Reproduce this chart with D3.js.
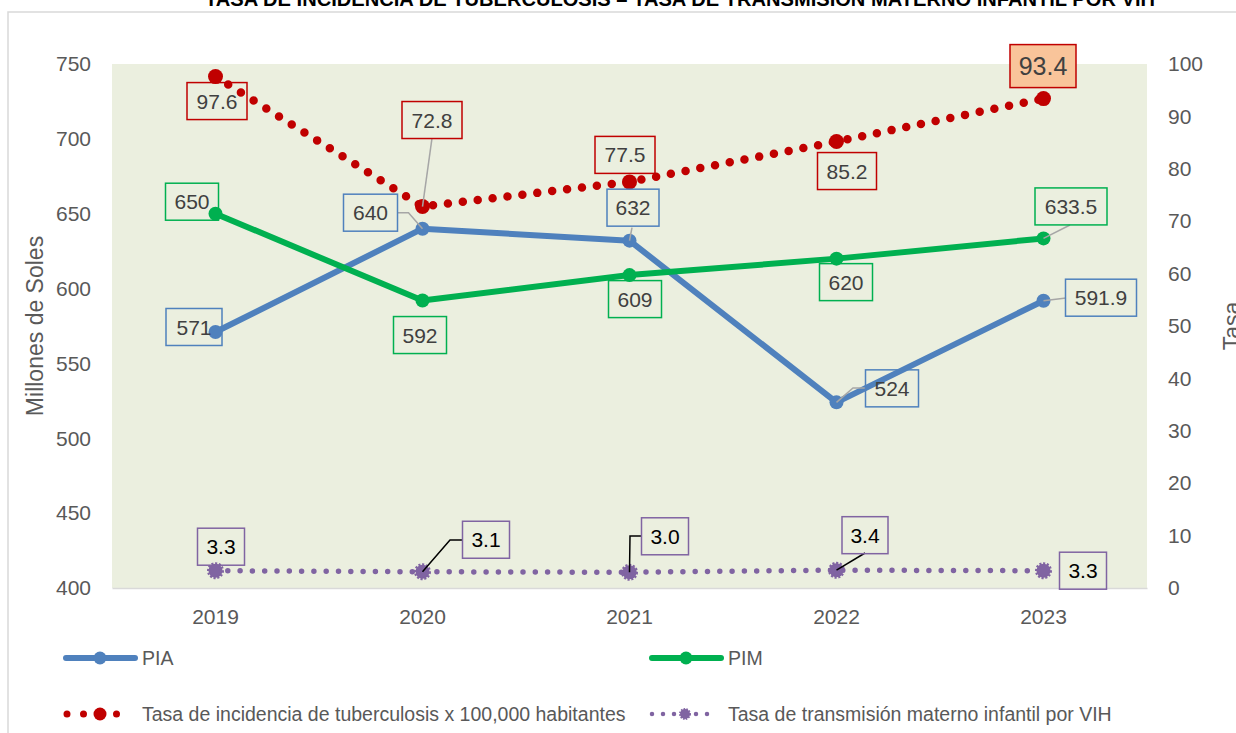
<!DOCTYPE html>
<html>
<head>
<meta charset="utf-8">
<script src="https://cdn.jsdelivr.net/npm/d3@7"></script>
<style>
    body { margin: 0; background: #fff; }
    svg text { font-family: "Liberation Sans", Arial, sans-serif; }
</style>
</head>
<body>
<div id="chart"></div>
<script>
// data
var years = ['2019', '2020', '2021', '2022', '2023'];
var pia = [571, 640, 632, 524, 591.9];
var pim = [650, 592, 609, 620, 633.5];
var tbc = [97.6, 72.8, 77.5, 85.2, 93.4];
var vih = [3.3, 3.1, 3.0, 3.4, 3.3];
var leftTicks = [400, 450, 500, 550, 600, 650, 700, 750];
var rightTicks = [0, 10, 20, 30, 40, 50, 60, 70, 80, 90, 100];

// label placement, relative to each point (box centre, box width, leader path)
var piaLabels = [
    { dx: -21.5, dy: -5, w: 56 },
    { dx: -52, dy: -16, w: 54, leader: [[0, 0], [-14, -16], [-25, -16]] },
    { dx: 3.5, dy: -33, w: 52, leader: [[0, 0], [2.5, -13]] },
    { dx: 55.5, dy: -14, w: 53, leader: [[0, 0], [16.5, -14.4], [29.5, -14.4]] },
    { dx: 57.5, dy: -3, w: 71, leader: [[0, 0], [22.5, -2.7]] }
];
var pimLabels = [
    { dx: -23.5, dy: -12, w: 53 },
    { dx: -2.5, dy: 34.5, w: 53 },
    { dx: 5.5, dy: 24, w: 53 },
    { dx: 9.5, dy: 23.5, w: 53 },
    { dx: 27.5, dy: -32, w: 72, leader: [[0, 0], [26.5, -13.4]] }
];
var tbcLabels = [
    { dx: 1.5, dy: 24.5, w: 60 },
    { dx: 9.5, dy: -86.5, w: 60, leader: [[0, 0], [9.5, -68.5]] },
    { dx: -4.5, dy: -27, w: 60 },
    { dx: 10.5, dy: 29.5, w: 59 },
    { dx: -0.5, dy: -32.5, w: 66, h: 43, size: 25, fill: '#F9C49A' }
];
var vihLabels = [
    { dx: 5.5, dy: -24, w: 47 },
    { dx: 63.5, dy: -32, w: 47, leader: [[0, 0], [27.5, -31.8], [39.5, -31.8]] },
    { dx: 35.5, dy: -36, w: 47, leader: [[0, 0], [0.5, -36.3], [12.5, -36.3]] },
    { dx: 28.5, dy: -35, w: 46, leader: [[0, 0], [28.5, -17.2]] },
    { dx: 39.5, dy: 0, w: 47 }
];

var blue = '#4F81BD', green = '#00B050', red = '#C00000', purple = '#8064A2';

var svg = d3.select('#chart').append('svg')
    .attr('width', 1236)
    .attr('height', 733)

// chart frame
svg.append('rect')
    .attr('x', 8).attr('y', 12)
    .attr('width', 1260).attr('height', 760)
    .attr('fill', '#fff')
    .attr('stroke', '#D9D9D9')
    .attr('stroke-width', 1.5)

svg.append('text')
    .attr('x', 680).attr('y', 6)
    .attr('text-anchor', 'middle')
    .attr('font-size', 20)
    .attr('font-weight', 'bold')
    .attr('fill', '#000')
    .attr('textLength', 950)
    .attr('lengthAdjust', 'spacingAndGlyphs')
    .text('TASA DE INCIDENCIA DE TUBERCULOSIS – TASA DE TRANSMISIÓN MATERNO INFANTIL POR VIH')

var x = d3.scaleBand().domain(years).range([112, 1147])
var cx = function(i) { return x(years[i]) + x.bandwidth() / 2 }
var yL = d3.scaleLinear().domain([400, 750]).range([588, 64])
var yR = d3.scaleLinear().domain([0, 100]).range([588, 64])

// plot area
svg.append('rect')
    .attr('x', 112).attr('y', yL(750))
    .attr('width', 1147 - 112).attr('height', yL(400) - yL(750))
    .attr('fill', '#EBEFDF')

// axes
var gl = svg.append('g')
    .attr('transform', 'translate(91,0)')
    .call(d3.axisLeft(yL).tickValues(leftTicks).tickSize(0).tickPadding(0))
gl.select('.domain').remove()

var gr = svg.append('g')
    .attr('transform', 'translate(1168,0)')
    .call(d3.axisRight(yR).tickValues(rightTicks).tickSize(0).tickPadding(0))
gr.select('.domain').remove()

var gb = svg.append('g')
    .attr('transform', 'translate(0,588)')
    .call(d3.axisBottom(x).tickSize(0).tickPadding(21))
gb.select('.domain').attr('stroke', '#D9D9D9').attr('stroke-width', 1.5)

;[gl, gr, gb].forEach(function(g) {
    g.attr('font-size', 21)
        .attr('font-family', '"Liberation Sans", Arial, sans-serif')
        .attr('color', '#595959')
})

// axis titles
svg.append('text')
    .attr('transform', 'translate(43,326) rotate(-90)')
    .attr('text-anchor', 'middle')
    .attr('font-size', 23)
    .attr('fill', '#595959')
    .text('Millones de Soles')

svg.append('text')
    .attr('transform', 'translate(1240,326) rotate(-90)')
    .attr('text-anchor', 'middle')
    .attr('font-size', 23)
    .attr('fill', '#595959')
    .text('Tasa')

// lines
function drawLine(values, yScale, color, width, dash) {
    var line = d3.line()
        .x(function(d, i) { return cx(i) })
        .y(function(d) { return yScale(d) })
    svg.append('path')
        .datum(values)
        .attr('d', line)
        .attr('fill', 'none')
        .attr('stroke', color)
        .attr('stroke-width', width)
        .attr('stroke-linecap', 'round')
        .attr('stroke-linejoin', 'round')
        .attr('stroke-dasharray', dash)
}

function drawMarkers(values, yScale, color, r, jagged) {
    svg.append('g').selectAll('circle')
        .data(values)
        .enter().append('circle')
        .attr('cx', function(d, i) { return cx(i) })
        .attr('cy', function(d) { return yScale(d) })
        .attr('r', r)
        .attr('fill', color)
        .attr('stroke', jagged ? color : 'none')
        .attr('stroke-width', jagged ? 3 : 0)
        .attr('stroke-dasharray', jagged ? '2 1.6' : null)
}

drawLine(pia, yL, blue, 6, null)
drawLine(pim, yL, green, 6, null)
drawLine(tbc, yR, red, 8.5, '0 15')
drawLine(vih, yR, purple, 5.5, '0 12.3')

drawMarkers(pia, yL, blue, 7)
drawMarkers(pim, yL, green, 7)
drawMarkers(tbc, yR, red, 7.5)
drawMarkers(vih, yR, purple, 7, true)

// data labels
function drawLabels(values, yScale, layout, color, fmt, textColor, leaderColor) {
    values.forEach(function(v, i) {
        var px = cx(i), py = yScale(v), L = layout[i]
        var h = L.h || 37
        if (L.leader) {
            svg.append('path')
                .attr('d', d3.line()(L.leader.map(function(p) { return [px + p[0], py + p[1]] })))
                .attr('fill', 'none')
                .attr('stroke', leaderColor)
                .attr('stroke-width', 1.5)
        }
        svg.append('rect')
            .attr('x', px + L.dx - L.w / 2)
            .attr('y', py + L.dy - h / 2)
            .attr('width', L.w)
            .attr('height', h)
            .attr('fill', L.fill || 'none')
            .attr('stroke', color)
            .attr('stroke-width', 1.5)
        svg.append('text')
            .attr('x', px + L.dx)
            .attr('y', py + L.dy)
            .attr('dy', '0.36em')
            .attr('text-anchor', 'middle')
            .attr('font-size', L.size || 21)
            .attr('fill', textColor)
            .text(fmt(v))
    })
}

drawLabels(pia, yL, piaLabels, blue, String, '#404040', '#A6A6A6')
drawLabels(pim, yL, pimLabels, green, String, '#404040', '#A6A6A6')
drawLabels(tbc, yR, tbcLabels, red, d3.format('.1f'), '#404040', '#A6A6A6')
drawLabels(vih, yR, vihLabels, purple, d3.format('.1f'), '#000', '#000')

// legend
var legend = [
    { name: 'PIA', color: blue, x: 64, y: 658, kind: 'solid' },
    { name: 'PIM', color: green, x: 650, y: 658, kind: 'solid' },
    { name: 'Tasa de incidencia de tuberculosis x 100,000 habitantes', color: red, x: 64, y: 714, kind: 'tbc' },
    { name: 'Tasa de transmisión materno infantil por VIH', color: purple, x: 650, y: 714, kind: 'vih' }
]

legend.forEach(function(l) {
    var g = svg.append('g').attr('transform', 'translate(' + l.x + ',' + l.y + ')')
    if (l.kind == 'solid') {
        g.append('line').attr('x1', 2).attr('x2', 71)
            .attr('stroke', l.color).attr('stroke-width', 6).attr('stroke-linecap', 'round')
        g.append('circle').attr('cx', 36).attr('r', 6.5).attr('fill', l.color)
    } else if (l.kind == 'tbc') {
        g.append('line').attr('x1', 3).attr('x2', 69)
            .attr('stroke', l.color).attr('stroke-width', 7).attr('stroke-linecap', 'round')
            .attr('stroke-dasharray', '0 16.5')
        g.append('circle').attr('cx', 36).attr('r', 6.5).attr('fill', l.color)
    } else {
        g.append('line').attr('x1', 2).attr('x2', 66)
            .attr('stroke', l.color).attr('stroke-width', 4.5).attr('stroke-linecap', 'round')
            .attr('stroke-dasharray', '0 11')
        g.append('circle').attr('cx', 35).attr('r', 5).attr('fill', l.color)
            .attr('stroke', l.color).attr('stroke-width', 2).attr('stroke-dasharray', '1.5 1.2')
    }
    g.append('text')
        .attr('x', 78)
        .attr('dy', '0.35em')
        .attr('font-size', 19.5)
        .attr('fill', '#595959')
        .text(l.name)
})
</script>
</body>
</html>
